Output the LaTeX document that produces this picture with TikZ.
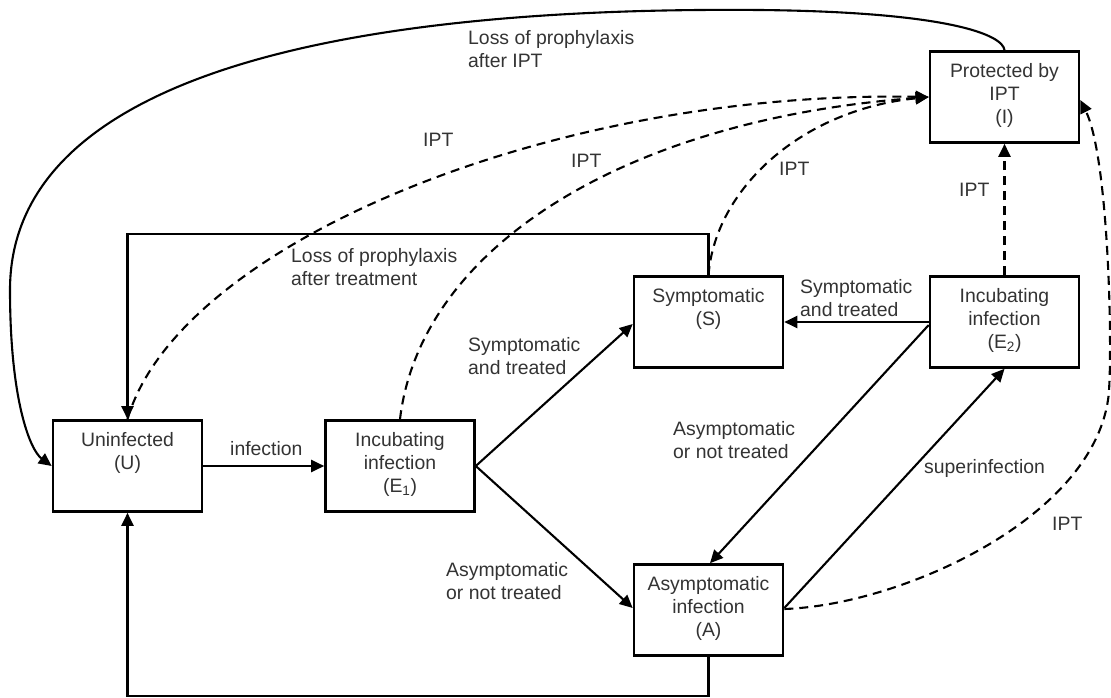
\documentclass[tikz,border=0pt]{standalone}
\usepackage{fontspec}
\setmainfont{Liberation Sans}
\usetikzlibrary{arrows.meta}
\newcommand{\bxt}[1]{\parbox[c][91pt][t]{149pt}{\centering\rule{0pt}{26pt}#1}}
\begin{document}
\begin{tikzpicture}[x=1pt,y=-1pt,
  every node/.style={font=\fontsize{19.4}{23}\selectfont, text=black!80},
  state/.style={draw=black, line width=2.6pt, inner sep=0pt, minimum width=149pt, minimum height=91pt},
  conn/.style={line width=2.1pt, -{Triangle[length=13pt,width=12pt]}},
  dconn/.style={conn, dash pattern=on 9pt off 6pt},
  lbl/.style={anchor=base west, align=left, inner sep=0pt}]
\useasboundingbox (0,0) rectangle (1111,697);

% states
\node[state] (U)  at (127.5,466) {\bxt{Uninfected\\(U)}};
\node[state] (E1) at (400,466)   {\bxt{Incubating\\infection\\(E\textsubscript{1})}};
\node[state] (S)  at (708.5,322) {\bxt{Symptomatic\\(S)}};
\node[state] (A)  at (708.5,610) {\bxt{Asymptomatic\\infection\\(A)}};
\node[state] (E2) at (1004.5,322) {\bxt{Incubating\\infection\\(E\textsubscript{2})}};
\node[state] (I)  at (1004.5,97) {\bxt{Protected by\\IPT\\(I)}};

% solid transitions
\draw[conn] (U.east) -- (E1.west);
\draw[conn] (E1.east) -- ([yshift=-2pt]S.west);
\draw[conn] (E1.east) -- ([yshift=2pt]A.west);
\draw[conn] (E2.west) -- (S.east);
\draw[conn] ([yshift=-3pt]E2.west) -- ([xshift=1.5pt]A.north);
\draw[conn] ([yshift=2pt]A.east) -- (E2.south);
\draw[conn] (S.north) -- ++(0,-41.5) -| (U.north);
\draw[conn] (A.south) -- ++(0,39) -| (U.south);
\draw[conn] (I.north) .. controls (1003,35) and (950,12) .. (760,10)
  .. controls (300,6) and (10,90) .. (10,290)
  .. controls (10,400) and (30,450) .. (U.west);

% IPT transitions
\draw[dconn] (U.north) .. controls (178,245) and (550,90) .. (I.west);
\draw[dconn] (E1.north) .. controls (420,250) and (620,120) .. (I.west);
\draw[dconn] (S.north) .. controls (715,190) and (800,110) .. (I.west);
\draw[dconn] (E2.north) -- (I.south);
\draw[dconn] ([yshift=1pt]A.east) .. controls (900,605) and (1090,520) .. (1108,400)
  .. controls (1113,370) and (1110,160) .. ([yshift=-3pt]I.east);

% labels
\node[lbl] (l1) at (468,67) {Loss of prophylaxis\\after IPT};
\node[lbl] (l2) at (423,146) {IPT};
\node[lbl] (l3) at (571,167) {IPT};
\node[lbl] (l4) at (779,175) {IPT};
\node[lbl] (l5) at (959,196) {IPT};
\node[lbl] (l6) at (1052,530) {IPT};
\node[lbl] (l7) at (291,285) {Loss of prophylaxis\\after treatment};
\node[lbl] (l8) at (230,455) {infection};
\node[lbl] (l9) at (468,374) {Symptomatic\\and treated};
\node[lbl] (l10) at (446,599) {Asymptomatic\\or not treated};
\node[lbl] (l11) at (800,316) {Symptomatic\\and treated};
\node[lbl] (l12) at (673,458) {Asymptomatic\\or not treated};
\node[lbl] (l13) at (924,473) {superinfection};
\end{tikzpicture}
\end{document}
